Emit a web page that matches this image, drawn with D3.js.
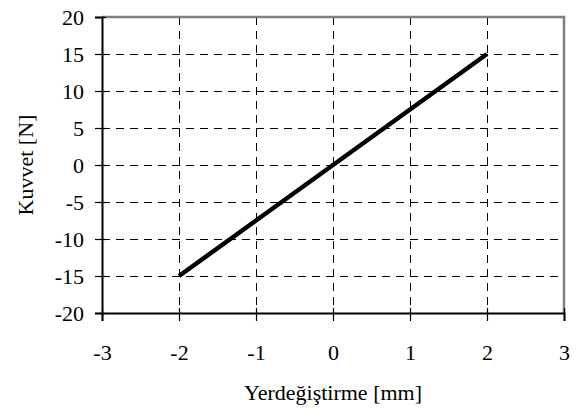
<!DOCTYPE html>
<html lang="en">

<head>
    <meta charset="UTF-8">
    <title>Kuvvet - Yerdeğiştirme</title>
    <style>
        body {
            margin: 0;
            padding: 0;
            background: #fff;
        }

        svg {
            display: block;
        }

        svg text {
            font-family: "Liberation Serif", "Times New Roman", serif;
            font-size: 22px;
            fill: #000;
        }
    </style>
</head>

<body>
    <script src="https://d3js.org/d3.v7.min.js"></script>
    <script>
        const width = 578
        const height = 410

        // values
        const displacement = [-2, -1, 0, 1, 2]
        const force = [-15, -7.5, 0, 7.5, 15]
        const xTicks = [-3, -2, -1, 0, 1, 2, 3]
        const yTicks = [-20, -15, -10, -5, 0, 5, 10, 15, 20]

        const margin = { top: 17, right: 14, bottom: 97, left: 102 }

        const x = d3.scaleLinear()
            .domain([-3, 3])
            .range([margin.left, width - margin.right])

        const y = d3.scaleLinear()
            .domain([-20, 20])
            .range([height - margin.bottom, margin.top])

        const svg = d3.select('body')
            .append('svg')
            .attr('width', width)
            .attr('height', height)

        // excel style labels use a plain hyphen
        const fmt = d => String(d)

        // dashed grid
        const grid = svg.append('g')
            .attr('stroke', '#000')
            .attr('stroke-width', 1)
            .attr('stroke-dasharray', '8,6')

        grid.selectAll('.vgrid')
            .data(xTicks.slice(1, -1))
            .join('line')
            .attr('x1', d => Math.round(x(d)) + 0.5)
            .attr('x2', d => Math.round(x(d)) + 0.5)
            .attr('y1', y(20))
            .attr('y2', y(-20))

        grid.selectAll('.hgrid')
            .data(yTicks.slice(1, -1))
            .join('line')
            .attr('x1', x(-3))
            .attr('x2', x(3))
            .attr('y1', d => Math.round(y(d)) + 0.5)
            .attr('y2', d => Math.round(y(d)) + 0.5)

        // gray frame top / right
        svg.append('path')
            .attr('d', `M${x(-3)},${y(20)}H${x(3)}V${y(-20)}`)
            .attr('fill', 'none')
            .attr('stroke', '#808080')
            .attr('stroke-width', 2.5)

        // axes
        const xAxis = d3.axisBottom(x)
            .tickValues(xTicks)
            .tickSize(8)
            .tickFormat(fmt)

        const yAxis = d3.axisLeft(y)
            .tickValues(yTicks)
            .tickSize(7)
            .tickPadding(11)
            .tickFormat(fmt)

        const gx = svg.append('g')
            .attr('transform', `translate(0,${y(-20)})`)
            .call(xAxis)

        const gy = svg.append('g')
            .attr('transform', `translate(${x(-3)},0)`)
            .call(yAxis)

        for (const g of [gx, gy]) {
            g.attr('font-family', null).attr('font-size', null)
            g.selectAll('.domain').attr('stroke', '#000').attr('stroke-width', 2)
            g.selectAll('.tick line').attr('stroke', '#000').attr('stroke-width', 1.2)
            g.selectAll('text').attr('fill', '#000')
        }
        // ticks cross the axis a little
        gx.selectAll('.tick line').attr('y1', -5)
        gy.selectAll('.tick line').attr('x1', 4)
        gx.selectAll('.tick text').attr('dy', '0.35em').attr('y', 39)

        // the force line
        const line = d3.line()
            .x((d, i) => x(displacement[i]))
            .y(d => y(d))

        svg.append('path')
            .datum(force)
            .attr('d', line)
            .attr('fill', 'none')
            .attr('stroke', '#000')
            .attr('stroke-width', 4.5)

        // axis titles
        svg.append('text')
            .attr('x', (x(-3) + x(3)) / 2)
            .attr('y', 400)
            .attr('text-anchor', 'middle')
            .text('Yerdeğiştirme [mm]')

        svg.append('text')
            .attr('transform', `translate(33,${(y(20) + y(-20)) / 2}) rotate(-90)`)
            .attr('text-anchor', 'middle')
            .text('Kuvvet [N]')
    </script>
</body>

</html>
